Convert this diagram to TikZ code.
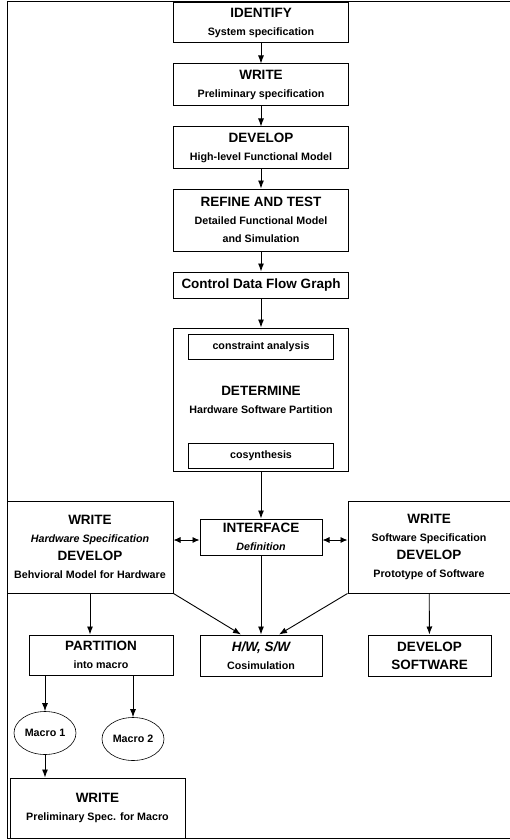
\documentclass[tikz,border=0pt]{standalone}
\usepackage{fontspec}
\setmainfont{Liberation Sans}
\usetikzlibrary{positioning,arrows.meta,shapes.geometric}

\newcommand{\steptitle}[1]{{\fontsize{13.5}{18}\selectfont\bfseries #1}}

\begin{document}
\begin{tikzpicture}[
       x=1pt, y=-1pt,
       box/.style={rectangle, draw=black, line width=1pt, minimum width=175pt, align=center,
                   inner sep=2pt, font=\fontsize{10.7}{18}\selectfont\bfseries},
       inbox/.style={rectangle, draw=black, line width=0.9pt, minimum width=145pt, minimum height=25pt,
                     inner sep=2pt, font=\fontsize{10.7}{13}\selectfont\bfseries},
       macro/.style={ellipse, draw=black, line width=0.6pt, minimum width=62pt, minimum height=43pt,
                     inner sep=1pt, font=\fontsize{10.7}{13}\selectfont\bfseries},
       arrow/.style={-{Latex[length=8pt,width=6pt]}, line width=0.9pt, black},
       twoway/.style={{Latex[length=7pt,width=6pt]}-{Latex[length=7pt,width=6pt]}, line width=0.9pt, black}
   ]
   \useasboundingbox (0,0) rectangle (510,840);
   \draw[line width=1pt] (510,2) -- (7,2) -- (7,838) -- (510,838);

   % main column
   \node[box, minimum height=40pt] (identify) at (261,23) {\steptitle{IDENTIFY}\\System specification};
   \node[box, minimum height=42pt, below=20pt of identify] (prelim) {\steptitle{WRITE}\\Preliminary specification};
   \node[box, minimum height=41pt, below=20pt of prelim] (highlevel) {\steptitle{DEVELOP}\\High-level Functional Model};
   \node[box, minimum height=62pt, below=20pt of highlevel] (refine) {\steptitle{REFINE AND TEST}\\Detailed Functional Model\\and Simulation};
   \node[box, minimum height=26pt, below=20pt of refine] (cdfg) {\steptitle{Control Data Flow Graph}};
   \node[box, minimum height=143pt, below=29pt of cdfg] (determine) {\steptitle{DETERMINE}\\Hardware Software Partition};
   \node[inbox, below=6pt of determine.north] (constraint) {constraint analysis};
   \node[inbox, above=3pt of determine.south] (cosynth) {cosynthesis};
   \node[box, minimum width=122pt, minimum height=36pt, below=47pt of determine] (interface) {\steptitle{INTERFACE}\\\textit{Definition}};

   % hardware / software branches
   \node[box, minimum width=166pt, minimum height=92pt] (hwspec) at (90,547)
        {\steptitle{WRITE}\\\textit{Hardware Specification}\\\steptitle{DEVELOP}\\Behvioral Model for Hardware};
   \node[box, minimum width=162pt, minimum height=92pt] (swspec) at (429,547)
        {\steptitle{WRITE}\\Software Specification\\\steptitle{DEVELOP}\\Prototype of Software};
   \node[box, minimum width=122pt, minimum height=41pt] (cosim) at (261,655.5) {\steptitle{\itshape H/W, S/W}\\Cosimulation};
   \node[box, minimum width=144pt, minimum height=40pt] (partition) at (101,655) {\steptitle{PARTITION}\\into macro};
   \node[box, minimum width=123pt, minimum height=41pt] (devsw) at (429.5,655.5) {\steptitle{DEVELOP}\\\steptitle{SOFTWARE}};
   \node[macro] (macroa) at (45,733) {Macro 1};
   \node[macro] (macrob) at (133,739) {Macro 2};
   \node[box, minimum width=175pt, minimum height=60pt] (macrospec) at (97.5,808) {\steptitle{WRITE}\\Preliminary Spec. for Macro};

   \draw[arrow] (identify) -- (prelim);
   \draw[arrow] (prelim) -- (highlevel);
   \draw[arrow] (highlevel) -- (refine);
   \draw[arrow] (refine) -- (cdfg);
   \draw[arrow] (cdfg) -- (determine);
   \draw[arrow] (determine) -- (interface);
   \draw[twoway] (hwspec.east |- interface.west) ++(0,3) -- ([yshift=-3pt]interface.west);
   \draw[twoway] ([yshift=-3pt]interface.east) -- ([yshift=-3pt]interface.east -| swspec.west);
   \draw[arrow] (interface) -- (cosim);
   \draw[arrow] (hwspec.south east) -- ([xshift=-20pt]cosim.north);
   \draw[arrow] (swspec.south west) -- ([xshift=18pt]cosim.north);
   \draw[arrow] (hwspec.south) -- (hwspec.south |- partition.north);
   \draw[arrow] (swspec) -- (devsw);
   \draw[arrow] (macroa.north |- partition.south) -- (macroa.north);
   \draw[arrow] (macrob.north |- partition.south) -- (macrob.north);
   \draw[arrow] (macroa.south) -- (macroa.south |- macrospec.north);
   \end{tikzpicture}
\end{document}
